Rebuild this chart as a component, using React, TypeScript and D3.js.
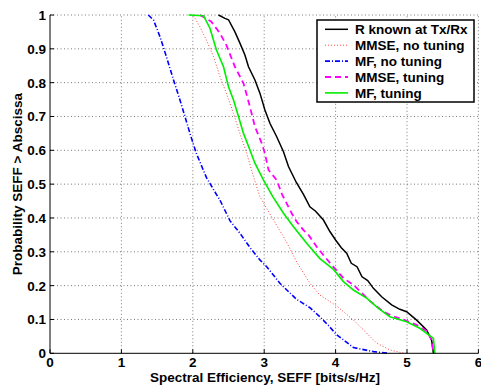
import React from 'react';
import * as d3 from 'd3';

const knownR: [number, number][] = [
  [2.36, 1], [2.45, 0.99], [2.5, 0.986], [2.59, 0.95], [2.66, 0.917], [2.73, 0.882],
  [2.78, 0.847], [2.87, 0.808], [2.94, 0.769], [3.01, 0.719], [3.08, 0.68], [3.175, 0.64],
  [3.27, 0.596], [3.34, 0.552], [3.45, 0.505], [3.55, 0.47], [3.64, 0.433], [3.72, 0.42],
  [3.83, 0.394], [3.92, 0.36], [4.0, 0.335], [4.08, 0.312], [4.155, 0.296], [4.22, 0.266],
  [4.3, 0.256], [4.37, 0.226], [4.45, 0.215], [4.53, 0.192], [4.645, 0.167], [4.785, 0.143],
  [4.9, 0.13], [4.995, 0.123], [5.135, 0.098], [5.275, 0.069], [5.345, 0.039], [5.37, 0],
];

const mmseNoTuning: [number, number][] = [
  [1.97, 1], [2.01, 0.998], [2.1, 0.965], [2.19, 0.926], [2.29, 0.877], [2.38, 0.818],
  [2.47, 0.769], [2.57, 0.709], [2.66, 0.65], [2.755, 0.591], [2.85, 0.522], [2.94, 0.463],
  [3.03, 0.43], [3.13, 0.394], [3.31, 0.33], [3.455, 0.27], [3.64, 0.207], [3.78, 0.172],
  [4.015, 0.14], [4.25, 0.098], [4.39, 0.069], [4.575, 0.03], [4.76, 0.01], [4.9, 0.003],
  [4.98, 0],
];

const mfNoTuning: [number, number][] = [
  [1.377, 1], [1.45, 0.985], [1.54, 0.936], [1.63, 0.877], [1.73, 0.808], [1.82, 0.749],
  [1.89, 0.7], [1.96, 0.65], [2.05, 0.591], [2.19, 0.52], [2.33, 0.47], [2.38, 0.453],
  [2.52, 0.392], [2.66, 0.355], [2.8, 0.313], [2.94, 0.276], [3.035, 0.256], [3.22, 0.207],
  [3.45, 0.16], [3.64, 0.135], [3.78, 0.108], [3.9, 0.082], [4.015, 0.055], [4.25, 0.017],
  [4.53, 0.005], [4.75, 0],
];

const mmseTuning: [number, number][] = [
  [2.1, 1], [2.26, 0.98], [2.38, 0.946], [2.47, 0.911], [2.59, 0.847], [2.71, 0.798],
  [2.8, 0.729], [2.87, 0.67], [2.965, 0.621], [3.01, 0.591], [3.06, 0.542], [3.175, 0.512],
  [3.25, 0.47], [3.385, 0.414], [3.455, 0.389], [3.55, 0.364], [3.62, 0.35], [3.735, 0.315],
  [3.83, 0.29], [3.95, 0.26], [4.11, 0.222], [4.25, 0.202], [4.48, 0.155], [4.67, 0.123],
  [4.8, 0.11], [4.97, 0.098], [5.135, 0.084], [5.28, 0.065], [5.345, 0.04], [5.37, 0],
];

const mfTuning: [number, number][] = [
  [1.94, 1], [2.15, 0.998], [2.24, 0.961], [2.33, 0.897], [2.43, 0.847], [2.5, 0.788],
  [2.57, 0.749], [2.64, 0.7], [2.71, 0.65], [2.8, 0.601], [2.87, 0.562], [2.99, 0.512],
  [3.12, 0.463], [3.27, 0.414], [3.41, 0.374], [3.595, 0.325], [3.78, 0.28], [3.97, 0.248],
  [4.11, 0.212], [4.25, 0.187], [4.435, 0.163], [4.6, 0.133], [4.76, 0.108], [4.995, 0.093],
  [5.18, 0.074], [5.37, 0.044], [5.39, 0],
];

const xTicks = [0, 1, 2, 3, 4, 5, 6];
const yTicks = [0, 0.1, 0.2, 0.3, 0.4, 0.5, 0.6, 0.7, 0.8, 0.9, 1];

const series = [
  { name: 'R known at Tx/Rx', data: knownR, color: '#000000', width: 1.5, dash: '' },
  { name: 'MMSE, no tuning', data: mmseNoTuning, color: '#ff4040', width: 1, dash: '1,2' },
  { name: 'MF, no tuning', data: mfNoTuning, color: '#0000ff', width: 1.6, dash: '5,2,1,2' },
  { name: 'MMSE, tuning', data: mmseTuning, color: '#ff00ff', width: 1.8, dash: '6,4' },
  { name: 'MF, tuning', data: mfTuning, color: '#00ee00', width: 1.6, dash: '' },
];

const W = 481;
const H = 388;

const App: React.FC = () => {
  const x = d3.scaleLinear().domain([0, 6]).range([50, 478.4]);
  const y = d3.scaleLinear().domain([0, 1]).range([353.3, 15]);
  const line = d3
    .line<[number, number]>()
    .x((d) => x(d[0]))
    .y((d) => y(d[1]));

  const font = '"Liberation Sans", Arial, Helvetica, sans-serif';
  const lg = { x: 317, y: 20, w: 157, h: 82 };
  const fs = 13.5;

  return (
    <svg
      width={W}
      height={H}
      style={{ position: 'absolute', left: 0, top: 0, background: '#fff' }}
      fontFamily={font}
      fontWeight="bold"
    >
      <rect width={W} height={H} fill="#fff" />

      {/* grid */}
      <g stroke="#7a7a7a" strokeWidth={1} strokeDasharray="1,2.5">
        {xTicks.slice(1).map((t) => (
          <line key={'gx' + t} x1={x(t)} x2={x(t)} y1={y(0)} y2={y(1)} />
        ))}
        {yTicks.slice(1).map((t) => (
          <line key={'gy' + t} x1={x(0)} x2={x(6)} y1={y(t)} y2={y(t)} />
        ))}
      </g>

      {/* series */}
      <g fill="none">
        {series.map((s) => (
          <path
            key={s.name}
            d={line(s.data) || ''}
            stroke={s.color}
            strokeWidth={s.width}
            strokeDasharray={s.dash || undefined}
          />
        ))}
      </g>

      {/* axes */}
      <g stroke="#000" strokeWidth={1}>
        <line x1={x(0)} x2={x(6)} y1={y(0)} y2={y(0)} />
        <line x1={x(0)} x2={x(0)} y1={y(0)} y2={y(1)} />
        {xTicks.map((t) => (
          <line key={'tx' + t} x1={x(t)} x2={x(t)} y1={y(0)} y2={y(0) - 4} />
        ))}
        {yTicks.map((t) => (
          <line key={'ty' + t} x1={x(0)} x2={x(0) + 4} y1={y(t)} y2={y(t)} />
        ))}
      </g>

      <g fontSize={fs} fill="#000">
        {xTicks.map((t) => (
          <text key={'lx' + t} x={x(t)} y={367} textAnchor="middle">
            {t}
          </text>
        ))}
        {yTicks.map((t) => (
          <text key={'ly' + t} x={46} y={y(t)} dy="0.36em" textAnchor="end">
            {t}
          </text>
        ))}
        <text x={265} y={382} textAnchor="middle">
          Spectral Efficiency, SEFF [bits/s/Hz]
        </text>
        <text transform={`translate(22,${y(0.5)}) rotate(-90)`} textAnchor="middle">
          Probability SEFF &gt; Abscissa
        </text>
      </g>

      {/* legend */}
      <g>
        <rect x={lg.x} y={lg.y} width={lg.w} height={lg.h} fill="#fff" stroke="#000" strokeWidth={1.5} />
        {series.map((s, i) => {
          const cy = lg.y + 9.3 + i * 15.9;
          return (
            <g key={'lg' + s.name}>
              <line
                x1={lg.x + 8}
                x2={lg.x + 31}
                y1={cy}
                y2={cy}
                stroke={s.color}
                strokeWidth={s.width}
                strokeDasharray={s.dash || undefined}
              />
              <text x={lg.x + 38} y={cy} dy="0.36em" fontSize={fs}>
                {s.name}
              </text>
            </g>
          );
        })}
      </g>
    </svg>
  );
};

export default App;
